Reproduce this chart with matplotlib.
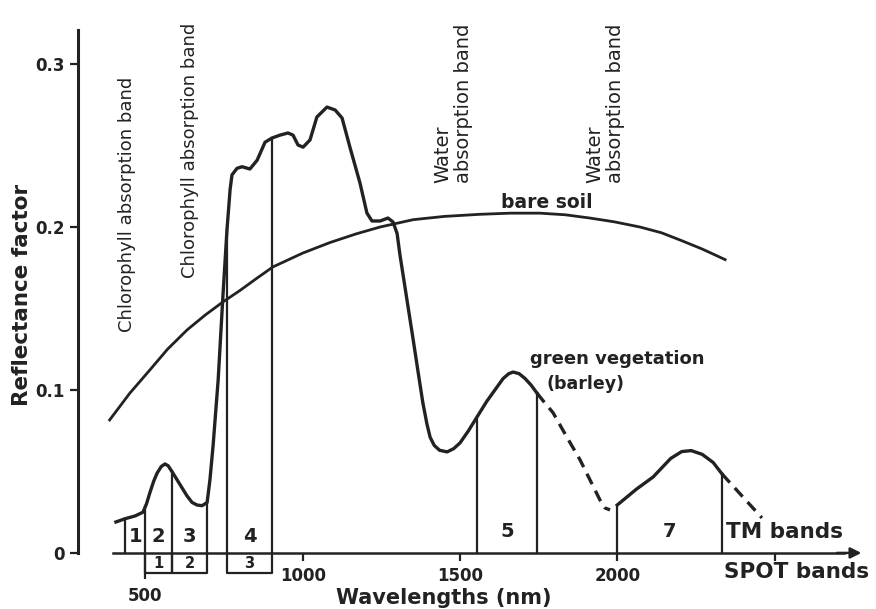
import numpy as np
import matplotlib.pyplot as plt
import matplotlib.transforms as mtransforms

# green vegetation (barley), solid part up to TM band 5
veg_wl = [406, 435, 467, 492, 503, 514, 526, 537, 550, 562, 572, 584, 600, 616,
          632, 648, 664, 680, 696, 705, 715, 731, 746, 759, 769, 775, 791, 807,
          832, 855, 880, 902, 928, 953, 969, 985, 1001, 1023, 1045, 1077, 1103,
          1125, 1150, 1182, 1204, 1220, 1246, 1271, 1287, 1300, 1309, 1330,
          1351, 1366, 1382, 1395, 1405, 1418, 1435, 1459, 1480, 1500, 1527,
          1554, 1585, 1611, 1637, 1655, 1669, 1688, 1707, 1726, 1745]
veg_refl = [0.019, 0.021, 0.0227, 0.025, 0.030, 0.037, 0.044, 0.049, 0.053,
            0.0546, 0.0535, 0.050, 0.045, 0.040, 0.035, 0.031, 0.0294, 0.029,
            0.031, 0.045, 0.066, 0.106, 0.157, 0.198, 0.223, 0.232, 0.236,
            0.237, 0.2356, 0.241, 0.252, 0.2546, 0.2564, 0.2577, 0.2564, 0.2503,
            0.249, 0.2534, 0.2675, 0.2736, 0.2718, 0.2669, 0.249, 0.227, 0.2086,
            0.2037, 0.2037, 0.2055, 0.2031, 0.196, 0.183, 0.157, 0.131, 0.112,
            0.092, 0.079, 0.071, 0.066, 0.063, 0.062, 0.064, 0.0675, 0.075,
            0.0834, 0.093, 0.100, 0.107, 0.110, 0.111, 0.110, 0.107, 0.103, 0.098]
# dashed (water absorption) and the SWIR part
veg_dash1_wl = [1745, 1770, 1796, 1840, 1882, 1945, 1961, 1977]
veg_dash1_refl = [0.098, 0.092, 0.086, 0.071, 0.057, 0.0325, 0.0276, 0.0264]
veg2_wl = [2000, 2060, 2114, 2170, 2205, 2235, 2270, 2305, 2333]
veg2_refl = [0.0294, 0.039, 0.0466, 0.058, 0.0622, 0.0628, 0.0605, 0.0555, 0.0485]
veg_dash2_wl = [2333, 2460]
veg_dash2_refl = [0.0485, 0.0215]

# bare soil
soil_wl = [386, 450, 514, 570, 632, 690, 746, 800, 850, 905, 1000, 1087, 1170,
           1246, 1351, 1450, 1564, 1660, 1754, 1835, 1913, 1990, 2072, 2140,
           2200, 2270, 2343]
soil_refl = [0.0816, 0.098, 0.1123, 0.125, 0.1368, 0.146, 0.154, 0.161, 0.168,
             0.1755, 0.184, 0.1905, 0.1958, 0.200, 0.2045, 0.2065, 0.2078,
             0.2085, 0.2085, 0.2075, 0.2055, 0.2032, 0.200, 0.1965, 0.192,
             0.1865, 0.180]

# bands (edges in nm as drawn)
tm_names = ['1', '2', '3', '4', '5', '7']
tm_bands = [(435, 500), (500, 584), (584, 696), (759, 902), (1554, 1745), (2000, 2333)]
spot_names = ['1', '2', '3']
spot_bands = [(500, 584), (584, 696), (759, 902)]

xticks = [500, 1000, 1500, 2000, 2500]
xticklabels = ['500', '1000', '1500', '2000', '']
yticks = [0, 0.1, 0.2, 0.3]
yticklabels = ['0', '0.1', '0.2', '0.3']

ink = '#222222'

fig = plt.figure(figsize=(8.76, 6.09), dpi=100)
ax = fig.add_axes([0, 0, 1, 1])
ax.set_xlim(37.4, 2822.7)
ax.set_ylim(-0.0344, 0.3393)

# axes
for s in ['top', 'right']:
    ax.spines[s].set_visible(False)
ax.spines['left'].set_position(('data', 285))
ax.spines['left'].set_bounds(0, 0.321)
ax.spines['left'].set_linewidth(2.2)
ax.spines['bottom'].set_position(('data', 0))
ax.spines['bottom'].set_bounds(398, 2720)
ax.spines['bottom'].set_linewidth(1.8)
for s in ['left', 'bottom']:
    ax.spines[s].set_color(ink)
ax.annotate('', xy=(2785, 0), xytext=(2690, 0),
            arrowprops=dict(arrowstyle='-|>', color=ink, lw=1.8, mutation_scale=16))

ax.set_xticks(xticks, xticklabels)
ax.set_yticks(yticks, yticklabels)
ax.tick_params(direction='out', length=5.8, width=1.6, pad=4, colors=ink,
               labelsize=12)
for lab in ax.get_xticklabels() + ax.get_yticklabels():
    lab.set_fontweight('bold')
# the 500 tick runs down past the SPOT boxes, its label sits lower
ax.xaxis.get_major_ticks()[0].tick1line.set_markersize(19)
lab500 = ax.get_xticklabels()[0]
lab500.set_transform(lab500.get_transform() +
                     mtransforms.ScaledTranslation(0, -0.2, fig.dpi_scale_trans))

ax.set_xlabel('Wavelengths (nm)', fontsize=15, fontweight='bold', color=ink)
ax.xaxis.set_label_coords(0.506, 0.035)
ax.set_ylabel('Reflectance factor', fontsize=15.5, fontweight='bold', color=ink)
ax.yaxis.set_label_coords(0.037, 0.516)

# curves
dash = (3.5, 2.2)
ax.plot(soil_wl, soil_refl, color=ink, lw=2.0, solid_joinstyle='round')
ax.plot(veg_wl, veg_refl, color=ink, lw=2.4, solid_joinstyle='round')
ax.plot(veg_dash1_wl, veg_dash1_refl, color=ink, lw=2.4, dashes=dash)
ax.plot(veg2_wl, veg2_refl, color=ink, lw=2.4, solid_joinstyle='round')
ax.plot(veg_dash2_wl, veg_dash2_refl, color=ink, lw=2.4, dashes=dash)

all_wl = veg_wl + veg_dash1_wl[1:] + veg2_wl + veg_dash2_wl[1:]
all_refl = veg_refl + veg_dash1_refl[1:] + veg2_refl + veg_dash2_refl[1:]

# TM band edges and numbers
edges = sorted(set([e for b in tm_bands for e in b]))
for e in edges:
    top = np.interp(e, all_wl, all_refl)
    if e == 2000:
        top = veg2_refl[0]
    ax.plot([e, e], [0, top], color=ink, lw=1.6)
for name, (a, b) in zip(tm_names, tm_bands):
    yy = 0.0098 if a < 1000 else 0.013
    ax.text((a + b) / 2, yy, name, ha='center', va='center', fontsize=14,
            fontweight='bold', color=ink)

# SPOT band boxes under the axis
box_low = -0.0123
for name, (a, b) in zip(spot_names, spot_bands):
    ax.plot([a, a, b, b], [0, box_low, box_low, 0], color=ink, lw=1.6)
    ax.text((a + b) / 2, -0.0062, name, ha='center', va='center', fontsize=10.5,
            fontweight='bold', color=ink)

ax.text(2345, 0.0129, 'TM bands', ha='left', va='center', fontsize=15.5,
        fontweight='bold', color=ink)
ax.text(2340, -0.0117, 'SPOT bands', ha='left', va='center', fontsize=15.5,
        fontweight='bold', color=ink)

# labels on the plot
ax.text(441, 0.214, 'Chlorophyll absorption band', rotation=90, ha='center',
        va='center', fontsize=13, color=ink)
ax.text(641, 0.247, 'Chlorophyll absorption band', rotation=90, ha='center',
        va='center', fontsize=13, color=ink)
for wx in [1478, 1961]:
    ax.text(wx, 0.227, 'Water\nabsorption band', rotation=90, ha='center',
            va='bottom', multialignment='left', linespacing=1.15, fontsize=14,
            color=ink)
ax.text(1777, 0.2153, 'bare soil', ha='center', va='center', fontsize=13.5,
        fontweight='bold', color=ink)
ax.text(2000, 0.119, 'green vegetation', ha='center', va='center', fontsize=13,
        fontweight='bold', color=ink)
ax.text(1900, 0.1037, '(barley)', ha='center', va='center', fontsize=12.5,
        fontweight='bold', color=ink)

fig.savefig('out.png', dpi=100)
